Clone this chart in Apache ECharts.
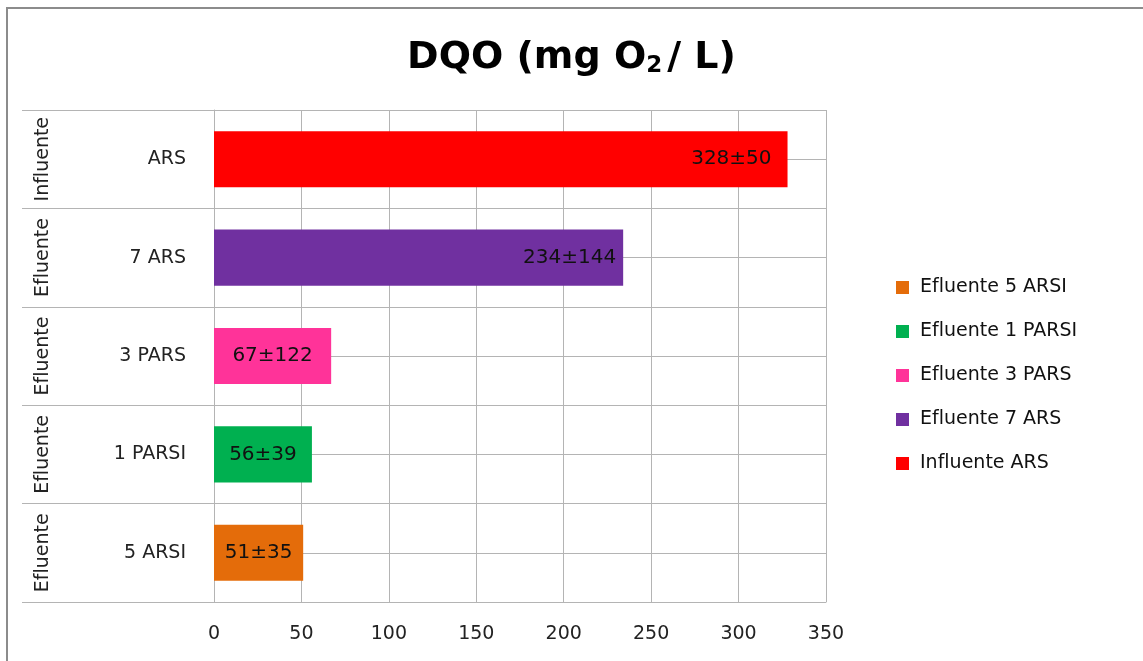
<!DOCTYPE html>
<html lang="es" style="height: 100%">
<head>
  <meta charset="utf-8">
</head>
<body style="height: 100%; margin: 0; background: #fff">
  <div id="container" style="width: 1143px; height: 661px"></div>

  <script type="text/javascript" src="https://cdn.jsdelivr.net/npm/echarts@6.0.0/dist/echarts.min.js"></script>
  <script type="text/javascript">
    // bottom to top, as ECharts draws a category y axis
    var categories = ['5 ARSI', '1 PARSI', '3 PARS', '7 ARS', 'ARS'];
    var groups = ['Efluente', 'Efluente', 'Efluente', 'Efluente', 'Influente'];
    var values = [51, 56, 67, 234, 328];
    var labels = ['51±35', '56±39', '67±122', '234±144', '328±50'];
    var colors = ['#E46C0A', '#00B050', '#FF3399', '#7030A0', '#FF0000'];
    var xTicks = [0, 50, 100, 150, 200, 250, 300, 350];

    var dom = document.getElementById('container');
    var myChart = echarts.init(dom, null, { renderer: 'canvas' });

    var font = '"DejaVu Sans", "Open Sans", sans-serif';
    var gridColor = '#b4b4b4';

    var series = categories.map(function (c, i) {
      return {
        name: groups[i] + ' ' + c,
        type: 'bar',
        stack: 'all',
        barWidth: '57%',
        yAxisIndex: 0,
        itemStyle: { color: colors[i] },
        label: {
          show: true,
          position: i >= 3 ? 'insideRight' : 'inside',
          distance: i === 4 ? 16 : 7,
          color: '#111',
          fontFamily: font,
          fontSize: 20,
          formatter: function () { return labels[i]; }
        },
        data: categories.map(function (d, j) { return j === i ? values[j] : '-'; })
      };
    });

    var option = {
      animation: false,
      textStyle: { fontFamily: font },
      graphic: [{
        type: 'rect',
        shape: { x: 7, y: 8, width: 1200, height: 700 },
        style: { fill: 'none', stroke: '#8c8c8c', lineWidth: 2 },
        silent: true
      }],
      title: {
        text: 'DQO (mg O{sub|2}/ L)',
        left: 'center',
        top: 33,
        textStyle: {
          fontFamily: font,
          fontWeight: 'bold',
          fontSize: 38,
          color: '#000',
          rich: {
            sub: { fontFamily: font, fontWeight: 'bold', fontSize: 23, color: '#000', padding: [17, 5, 0, 0] }
          }
        }
      },
      legend: {
        orient: 'vertical',
        left: 891,
        top: 273,
        itemWidth: 13,
        itemHeight: 13,
        itemGap: 25,
        icon: 'rect',
        textStyle: { fontFamily: font, fontSize: 19, color: '#111', padding: [0, 0, 0, 6] },
        data: series.map(function (s) { return s.name; })
      },
      grid: { left: 214, right: 317, top: 110, bottom: 59 },
      xAxis: {
        type: 'value',
        min: xTicks[0],
        max: xTicks[xTicks.length - 1],
        interval: 50,
        axisLine: { show: true, lineStyle: { color: gridColor } },
        axisTick: { show: false },
        splitLine: { show: true, lineStyle: { color: gridColor } },
        axisLabel: { fontFamily: font, fontSize: 19, color: '#222', margin: 23 }
      },
      yAxis: [
        {
          type: 'category',
          data: categories,
          position: 'left',
          axisLine: { show: true, lineStyle: { color: gridColor } },
          axisTick: { show: true, length: 192, interval: 0, lineStyle: { color: gridColor } },
          axisLabel: { fontFamily: font, fontSize: 19, color: '#222', margin: 28 }
        },
        {
          type: 'category',
          data: groups,
          position: 'left',
          axisLine: { show: false },
          axisTick: { show: false },
          axisLabel: { rotate: 90, fontFamily: font, fontSize: 19, color: '#222', margin: 161, interval: 0 }
        },
        {
          type: 'value',
          min: 0,
          max: 10,
          interval: 1,
          position: 'right',
          axisLine: { show: false },
          axisTick: { show: false },
          axisLabel: { show: false },
          splitLine: { show: true, lineStyle: { color: gridColor } }
        }
      ],
      series: series
    };

    myChart.setOption(option);
    window.addEventListener('resize', myChart.resize);
  </script>
</body>
</html>
